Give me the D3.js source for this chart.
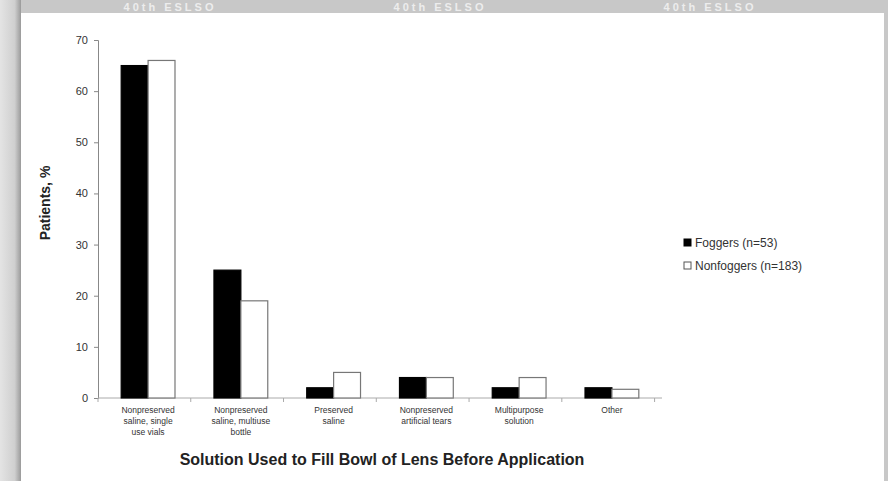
<!DOCTYPE html>
<html>
<head>
<meta charset="utf-8">
<script src="https://cdn.jsdelivr.net/npm/d3@7"></script>
<style>
  body { margin: 0; background: #fff; }
  svg { display: block; font-family: Arial, "Liberation Sans", sans-serif; }
</style>
</head>
<body>
<script>
const width = 888, height = 481;

const categories = [
  ["Nonpreserved", "saline, single", "use vials"],
  ["Nonpreserved", "saline, multiuse", "bottle"],
  ["Preserved", "saline"],
  ["Nonpreserved", "artificial tears"],
  ["Multipurpose", "solution"],
  ["Other"]
];
const seriesNames = ["Foggers (n=53)", "Nonfoggers (n=183)"];
const foggers = [65, 25, 2, 4, 2, 2];
const nonfoggers = [66, 19, 5, 4, 4, 1.7];
const yTicks = [0, 10, 20, 30, 40, 50, 60, 70];
const watermark = ["40th ESLSO", "40th ESLSO", "40th ESLSO"];

const svg = d3.select("body").append("svg").attr("width", width).attr("height", height);

// grey frame round the slide
const bg = svg.append("defs").append("linearGradient").attr("id", "leftShade");
bg.append("stop").attr("offset", "0%").attr("stop-color", "#e4e4e4");
bg.append("stop").attr("offset", "70%").attr("stop-color", "#cfcfcf");
bg.append("stop").attr("offset", "100%").attr("stop-color", "#9a9a9a");
svg.append("rect").attr("width", width).attr("height", height).attr("fill", "#c8c8c8");
svg.append("rect").attr("width", 21).attr("height", height).attr("fill", "url(#leftShade)");
svg.append("rect").attr("x", 21).attr("y", 13).attr("width", 863).attr("height", height - 13).attr("fill", "#fff");

// watermark text in the top band
svg.append("g").selectAll("text")
  .data(watermark)
  .enter().append("text")
  .attr("x", (d, i) => 170 + i * 270).attr("y", 11)
  .text(d => d)
  .style("font-size", "11px").style("font-weight", "bold")
  .style("fill", "#ededed").style("letter-spacing", "3px")
  .style("text-anchor", "middle");

const margin = {left: 98, top: 40, right: 226, bottom: 83};
const x0 = d3.scaleBand().domain(d3.range(categories.length))
  .range([margin.left, width - margin.right]).paddingInner(0.42).paddingOuter(0.25);
const x1 = d3.scaleBand().domain([0, 1]).range([0, x0.bandwidth()]);
const y = d3.scaleLinear().domain([0, 70]).range([height - margin.bottom, margin.top]);

// axes
const yAxis = svg.append("g").attr("transform", `translate(${margin.left},0)`)
  .call(d3.axisLeft(y).tickValues(yTicks).tickSize(4).tickPadding(6));
yAxis.select(".domain").attr("stroke", "#888");
yAxis.selectAll(".tick line").attr("stroke", "#888");
yAxis.selectAll("text").style("font-size", "11px").style("fill", "#333");

const step = x0.step();
const xAxis = svg.append("g").attr("transform", `translate(0,${y(0)})`);
xAxis.append("line").attr("x1", margin.left).attr("x2", width - margin.right)
  .attr("stroke", "#aaa");
xAxis.selectAll(".sep").data(d3.range(categories.length + 1)).enter().append("line")
  .attr("x1", d => margin.left + d * step)
  .attr("x2", d => margin.left + d * step)
  .attr("y1", 0).attr("y2", 4).attr("stroke", "#aaa");

// bars
const groups = svg.append("g").selectAll("g")
  .data(categories.map((c, i) => [foggers[i], nonfoggers[i]]))
  .enter().append("g")
  .attr("transform", (d, i) => `translate(${x0(i)},0)`);
groups.selectAll("rect").data(d => d).enter().append("rect")
  .attr("x", (d, j) => x1(j))
  .attr("y", d => y(d))
  .attr("width", x1.bandwidth())
  .attr("height", d => y(0) - y(d))
  .attr("fill", (d, j) => j === 0 ? "#000" : "#fff")
  .attr("stroke", (d, j) => j === 0 ? "#000" : "#777")
  .attr("stroke-width", 1.2);

// category labels
svg.append("g").selectAll("text")
  .data(categories)
  .enter().append("text")
  .attr("x", (d, i) => x0(i) + x0.bandwidth() / 2)
  .attr("y", 413)
  .style("font-size", "8.5px").style("fill", "#333").style("text-anchor", "middle")
  .each(function(lines) {
    d3.select(this).selectAll("tspan").data(lines).enter().append("tspan")
      .attr("x", d3.select(this).attr("x"))
      .attr("dy", (d, k) => k === 0 ? 0 : 11)
      .text(d => d);
  });

// titles
svg.append("text")
  .attr("x", 382).attr("y", 465)
  .text("Solution Used to Fill Bowl of Lens Before Application")
  .style("font-size", "16px").style("font-weight", "bold").style("fill", "#222")
  .style("text-anchor", "middle");
svg.append("text")
  .attr("transform", "translate(50,203) rotate(-90)")
  .text("Patients, %")
  .style("font-size", "14px").style("font-weight", "bold").style("fill", "#222")
  .style("text-anchor", "middle");

// legend
const legend = svg.append("g").attr("transform", "translate(684,243)");
const legendItem = legend.selectAll("g").data(seriesNames).enter().append("g")
  .attr("transform", (d, i) => `translate(0,${i * 23})`);
legendItem.append("rect")
  .attr("x", 0).attr("y", -4).attr("width", 7).attr("height", 7)
  .attr("fill", (d, i) => i === 0 ? "#000" : "#fff")
  .attr("stroke", (d, i) => i === 0 ? "#000" : "#555");
legendItem.append("text")
  .attr("x", 11).attr("y", 4)
  .text(d => d)
  .style("font-size", "12px").style("fill", "#333");
</script>
</body>
</html>
